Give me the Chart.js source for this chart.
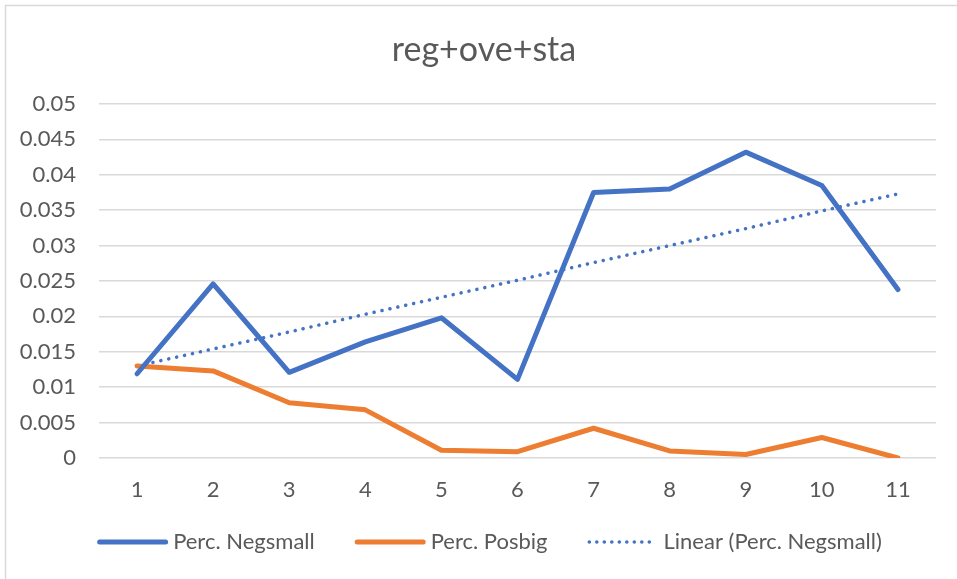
<!DOCTYPE html>
<html>
<head>
<meta charset="utf-8">
<script src="https://cdn.jsdelivr.net/npm/chart.js@4"></script>
<style>
html,body{margin:0;padding:0;background:#fff;}
#wrap{width:957px;height:579px;position:relative;}
</style>
</head>
<body>
<div id="wrap"><canvas id="c" width="957" height="579"></canvas></div>
<script>
const titleText = "reg+ove+sta";
const categories = ["1","2","3","4","5","6","7","8","9","10","11"];
const negsmall = [0.0119,0.0246,0.0121,0.0164,0.0198,0.0111,0.0375,0.0380,0.0432,0.0385,0.0238];
const posbig = [0.0130,0.0123,0.0078,0.0068,0.0011,0.0009,0.0042,0.0010,0.0005,0.0029,0.0000];
const linearNegsmall = [0.0130,0.0154,0.0178,0.0203,0.0227,0.0251,0.0276,0.0300,0.0324,0.0349,0.0373];
const seriesNames = ["Perc. Negsmall","Perc. Posbig","Linear (Perc. Negsmall)"];
const yTicks = ["0","0.005","0.01","0.015","0.02","0.025","0.03","0.035","0.04","0.045","0.05"];

const FONT = "Lato, 'Open Sans', sans-serif";
const TXT = "#595959";
const BLUE = "#4472C4";
const ORANGE = "#ED7D31";

const frame = {
  id: 'frame',
  beforeDraw(chart){
    const ctx = chart.ctx;
    ctx.save();
    ctx.fillStyle = '#fff';
    ctx.fillRect(0,0,chart.width,chart.height);
    ctx.strokeStyle = '#d9d9d9';
    ctx.lineWidth = 1.5;
    ctx.beginPath();
    ctx.moveTo(5.5, chart.height);
    ctx.lineTo(5.5, 5.5);
    ctx.lineTo(chart.width, 5.5);
    ctx.stroke();
    ctx.restore();
  }
};

// chart title, centred like the Excel original
const excelTitle = {
  id: 'excelTitle',
  afterDraw(chart){
    const ctx = chart.ctx;
    ctx.save();
    ctx.font = "34px " + FONT;
    ctx.fillStyle = TXT;
    ctx.textAlign = 'center';
    ctx.textBaseline = 'middle';
    ctx.fillText(titleText, 484, 50);
    ctx.restore();
  }
};

// legend drawn from the datasets (Excel-like line samples, incl. dotted trendline)
const excelLegend = {
  id: 'excelLegend',
  afterDraw(chart){
    const ctx = chart.ctx;
    const ds = chart.data.datasets;
    const sampleW = 71, textGap = 5, itemGap = 40, cy = 542, centerX = 489.5;
    ctx.save();
    ctx.font = "22px " + FONT;
    const widths = ds.map(d => ctx.measureText(d.label).width);
    let total = 0;
    widths.forEach((w, i) => { total += sampleW + textGap + w + (i < ds.length - 1 ? itemGap : 0); });
    let x = centerX - total / 2;
    ds.forEach((d, i) => {
      const lw = d.borderWidth;
      ctx.strokeStyle = d.borderColor;
      ctx.lineWidth = lw;
      ctx.lineCap = 'round';
      ctx.setLineDash(d.borderDash ? [0.1, 7.4] : []);
      ctx.beginPath();
      ctx.moveTo(x + lw / 2, cy);
      ctx.lineTo(x + sampleW - lw / 2, cy);
      ctx.stroke();
      ctx.setLineDash([]);
      ctx.fillStyle = TXT;
      ctx.textBaseline = 'middle';
      ctx.textAlign = 'left';
      ctx.fillText(d.label, x + sampleW + textGap, cy);
      x += sampleW + textGap + widths[i] + itemGap;
    });
    ctx.restore();
  }
};

new Chart(document.getElementById('c'), {
  type: 'line',
  data: {
    labels: categories,
    datasets: [
      {label: seriesNames[0], data: negsmall, borderColor: BLUE, backgroundColor: BLUE, borderWidth: 5, pointRadius: 0, borderCapStyle: 'round', borderJoinStyle: 'round', tension: 0},
      {label: seriesNames[1], data: posbig, borderColor: ORANGE, backgroundColor: ORANGE, borderWidth: 5, pointRadius: 0, borderCapStyle: 'round', borderJoinStyle: 'round', tension: 0},
      {label: seriesNames[2], data: linearNegsmall, borderColor: BLUE, backgroundColor: BLUE, borderWidth: 3.5, borderDash: [0.1, 8], pointRadius: 0, borderCapStyle: 'round', tension: 0}
    ]
  },
  options: {
    responsive: false,
    animation: false,
    events: [],
    layout: {padding: {left: 0, right: 21, top: 104, bottom: 57}},
    plugins: {
      title: {display: false},
      legend: {display: false},
      tooltip: {enabled: false}
    },
    scales: {
      x: {
        offset: true,
        grid: {display: false, drawTicks: false},
        border: {display: false},
        ticks: {color: TXT, font: {family: FONT, size: 22}, padding: 19},
        afterFit(scale){ scale.height = 64; }
      },
      y: {
        min: 0, max: 0.05,
        grid: {color: '#d9d9d9', lineWidth: 1.5, drawTicks: false},
        border: {display: false},
        ticks: {
          stepSize: 0.005,
          color: TXT,
          font: {family: FONT, size: 22},
          padding: 23,
          callback: (v, i) => yTicks[i]
        },
        afterFit(scale){ scale.width = 99; }
      }
    }
  },
  plugins: [frame, excelTitle, excelLegend]
});
</script>
</body>
</html>
